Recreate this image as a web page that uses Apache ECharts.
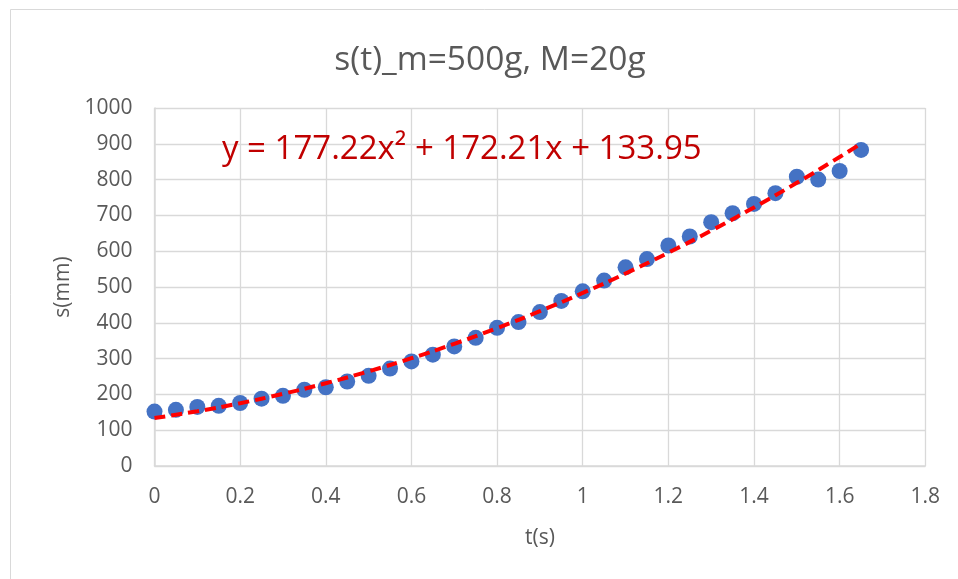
<!DOCTYPE html>
<html>
<head>
<meta charset="utf-8">
<script src="https://cdn.jsdelivr.net/npm/echarts@6/dist/echarts.min.js"></script>
<style>html,body{margin:0;padding:0;background:#fff;}#c{width:958px;height:579px;}</style>
</head>
<body>
<div id="c"></div>
<script>
var titleText = 's(t)_m=500g, M=20g';
var equationText = 'y = 177.22x² + 172.21x + 133.95';
var xName = 't(s)';
var yName = 's(mm)';
var times = [0,0.05,0.1,0.15,0.2,0.25,0.3,0.35,0.4,0.45,0.5,0.55,0.6,0.65,0.7,0.75,0.8,0.85,0.9,0.95,1,1.05,1.1,1.15,1.2,1.25,1.3,1.35,1.4,1.45,1.5,1.55,1.6,1.65];
var distances = [152,157,165,168,176,188,196,213,220,236,252,272,292,311,334,358,386,402,430,461,488,518,555,578,616,641,681,706,732,762,808,800,824,883];
var trendTimes = [0,0.1,0.2,0.3,0.4,0.5,0.6,0.7,0.8,0.9,1,1.1,1.2,1.3,1.4,1.5,1.6,1.65];
var trendValues = [133.95,152.94,175.48,201.56,231.19,264.36,301.08,341.34,385.14,432.49,483.38,537.82,595.80,657.33,722.39,791.01,863.17,900.58];

var FONT = 'Open Sans';
var TXT = '#595959';
var chart = echarts.init(document.getElementById('c'), null, {renderer:'canvas'});
var points = times.map(function(t,i){return [t, distances[i]];});
var trend = trendTimes.map(function(t,i){return [t, trendValues[i]];});
chart.setOption({
  animation:false,
  backgroundColor:'#fff',
  title:{text:titleText,left:485,top:38,textAlign:'center',
    textStyle:{fontFamily:FONT,fontSize:33.5,fontWeight:'normal',color:TXT}},
  grid:{left:154.5,right:32.7,top:108,bottom:113},
  xAxis:{type:'value',min:0,max:1.8,interval:0.2,
    name:xName,nameLocation:'middle',nameGap:62,
    nameTextStyle:{fontFamily:FONT,fontSize:21,color:TXT},
    axisLine:{show:true,lineStyle:{color:'#d9d9d9',width:1.5}},
    axisTick:{show:false},
    axisLabel:{fontFamily:FONT,fontSize:21,color:TXT,margin:21,
      formatter:function(v){return String(Math.round(v*10)/10);}},
    splitLine:{show:true,lineStyle:{color:'#d9d9d9',width:1.3}}},
  yAxis:{type:'value',min:0,max:1000,interval:100,
    name:yName,nameLocation:'middle',nameGap:80,
    nameTextStyle:{fontFamily:FONT,fontSize:21,color:TXT},
    axisLine:{show:true,lineStyle:{color:'#d9d9d9',width:1.5}},
    axisTick:{show:false},
    axisLabel:{fontFamily:FONT,fontSize:21,color:TXT,margin:22,
      formatter:function(v){return String(v);}},
    splitLine:{show:true,lineStyle:{color:'#d9d9d9',width:1.3}}},
  graphic:[
    {type:'rect',shape:{x:10.5,y:9.5,width:1000,height:1000},
     style:{fill:null,stroke:'#d9d9d9',lineWidth:1},silent:true,z:-10},
    {type:'text',left:222,top:133,
     style:{text:equationText,fontFamily:FONT,fontSize:33,fill:'#C00000'},z:100}
  ],
  series:[
    {type:'scatter',data:points,symbol:'circle',symbolSize:16,
     itemStyle:{color:'#4472C4',opacity:1},z:2},
    {type:'line',data:trend,smooth:true,showSymbol:false,symbol:'none',
     lineStyle:{color:'#FF0000',width:4,type:[11,6]},z:3}
  ]
});
</script>
</body>
</html>
